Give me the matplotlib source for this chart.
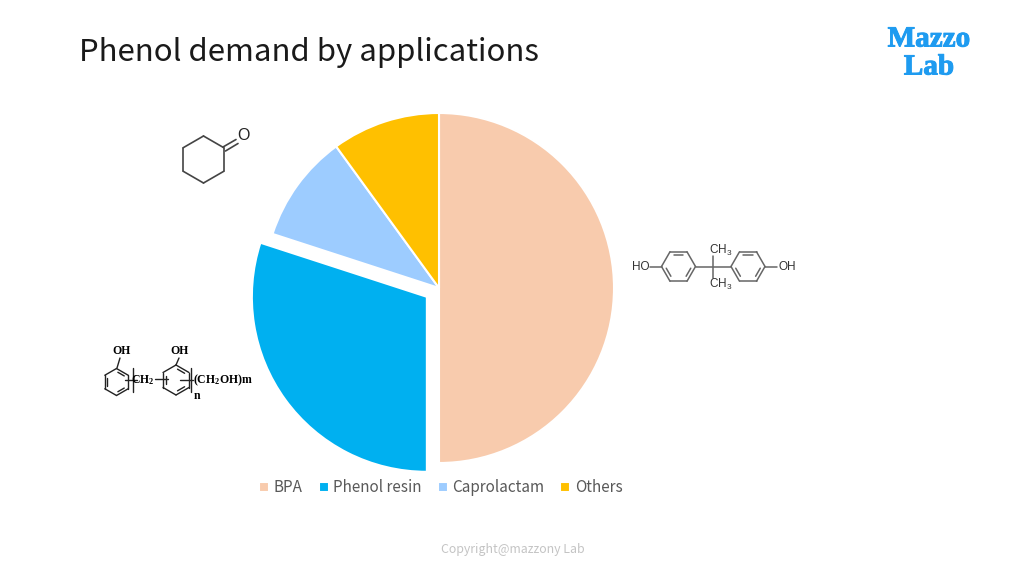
"""Phenol demand by applications - pie chart with molecule sketches."""

import numpy as np
import matplotlib
matplotlib.use("Agg")
import matplotlib.pyplot as plt
import matplotlib.patheffects as pe

# ---------------------------------------------------------------------
# Data
# ---------------------------------------------------------------------

labels = ["BPA", "Phenol resin", "Caprolactam", "Others"]
shares = [50, 30, 10, 10]
colors = ["#F8CBAD", "#00B0F0", "#9DCCFF", "#FFC000"]
explode = [0, 15, 0, 0]  # pie offsets are in data units, here pixels

plt.rcParams["font.family"] = ["Noto Sans CJK JP", "DejaVu Sans"]
plt.rcParams["mathtext.default"] = "regular"

fig = plt.figure(figsize=(10.24, 5.76), dpi=100)
ax = fig.add_axes([0, 0, 1, 1])


def py(y):
    # picture y (top down) to axes y
    return 576 - y


# ---------------------------------------------------------------------
# Pie
# ---------------------------------------------------------------------

wedges, _ = ax.pie(
    shares,
    colors=colors,
    explode=explode,
    startangle=90,
    counterclock=False,
    center=(439, py(288)),
    radius=175,
    frame=True,
    wedgeprops={"edgecolor": "white", "linewidth": 1.5},
)
ax.set_xlim(0, 1024)
ax.set_ylim(0, 576)
ax.set_aspect("auto")
ax.axis("off")

ax.legend(
    wedges, labels,
    loc="center", bbox_to_anchor=(441 / 1024, py(488) / 576),
    ncol=4, frameon=False, fontsize=11, labelcolor="#595959",
    handlelength=0.65, handleheight=0.65, handletextpad=0.3,
    columnspacing=1.05, borderpad=0,
)

# ---------------------------------------------------------------------
# Text
# ---------------------------------------------------------------------

ax.text(79, py(53), "Phenol demand by applications", fontsize=22.45,
        color="#1a1a1a", va="center", ha="left")
ax.text(513, py(549), "Copyright@mazzony Lab", fontsize=8.9,
        color="#c4c4c4", va="center", ha="center")

for txt, x, y in [("Mazzo", 929, 39), ("Lab", 929, 67)]:
    ax.text(x, py(y), txt, fontsize=21, family="Liberation Serif",
            weight="bold", color="#1E9BF0", va="center", ha="center",
            path_effects=[pe.withStroke(linewidth=0.7, foreground="#1E9BF0")])


# ---------------------------------------------------------------------
# Molecule sketches
# ---------------------------------------------------------------------

def bond(x0, y0, x1, y1, color="#666666", lw=1.1):
    ax.plot([x0, x1], [py(y0), py(y1)], color=color, lw=lw,
            solid_capstyle="round")


def ring(cx, cy, r, start=30, inner=True, color="#666666", lw=1.1):
    ang = np.radians(start + 60 * np.arange(7))
    xs = cx + r * np.cos(ang)
    ys = cy + r * np.sin(ang)
    for i in range(6):
        bond(xs[i], ys[i], xs[i + 1], ys[i + 1], color, lw)
    if inner:
        xi = cx + 0.78 * r * np.cos(ang)
        yi = cy + 0.78 * r * np.sin(ang)
        for i in (0, 2, 4):
            fx0 = xi[i] + 0.15 * (xi[i + 1] - xi[i])
            fy0 = yi[i] + 0.15 * (yi[i + 1] - yi[i])
            fx1 = xi[i] + 0.85 * (xi[i + 1] - xi[i])
            fy1 = yi[i] + 0.85 * (yi[i + 1] - yi[i])
            bond(fx0, fy0, fx1, fy1, color, lw)


def label(x, y, s, **kw):
    kw.setdefault("fontsize", 8.5)
    kw.setdefault("color", "#333333")
    kw.setdefault("family", "Liberation Sans")
    ax.text(x, py(y), s, va="center", ha="center", **kw)


# cyclohexanone
ring(203.5, 159.5, 23.5, start=30, inner=False, color="#444444", lw=1.2)
bond(223, 147, 236, 139.5, "#444444", 1.2)
bond(225.5, 151, 238, 143.5, "#444444", 1.2)
label(243.5, 136, "O", fontsize=11.5, color="#222222")

# bisphenol A
ring(678.5, 266.5, 17, start=0)
ring(748, 266.5, 17, start=0)
bond(650, 266.5, 661.5, 266.5)
bond(695.5, 266.5, 731, 266.5)
bond(765, 266.5, 777, 266.5)
bond(713, 255.5, 713, 278)
label(641, 266.5, "HO")
label(787, 266.5, "OH")
label(721, 250, "CH$_3$")
label(721, 284, "CH$_3$")

# phenol resin
serif = {"family": "Liberation Serif", "weight": "bold", "color": "black"}
ring(116.5, 382, 13.5, start=30, color="#222222", lw=1.0)
ring(176, 380, 15, start=30, color="#222222", lw=1.0)
bond(120, 358, 117, 368, "#222222", 1.0)
bond(179, 358, 176, 365, "#222222", 1.0)
label(122, 351, "OH", fontsize=8.5, **serif)
label(180, 351, "OH", fontsize=8.5, **serif)
bond(125, 380, 137, 380, "#222222", 1.0)
bond(155, 379, 168, 379, "#222222", 1.0)
bond(180, 380, 193, 380, "#222222", 1.0)
bond(133, 368, 133, 392, "#222222", 1.0)
bond(191, 368, 191, 392, "#222222", 1.0)
label(143, 380, "CH$_2$", fontsize=8.5, **serif)
label(197, 396, "n", fontsize=8.5, **serif)
label(223, 380, "(CH$_2$OH)m", fontsize=8.5, **serif)

fig.savefig("out.png", dpi=100, facecolor="white")
